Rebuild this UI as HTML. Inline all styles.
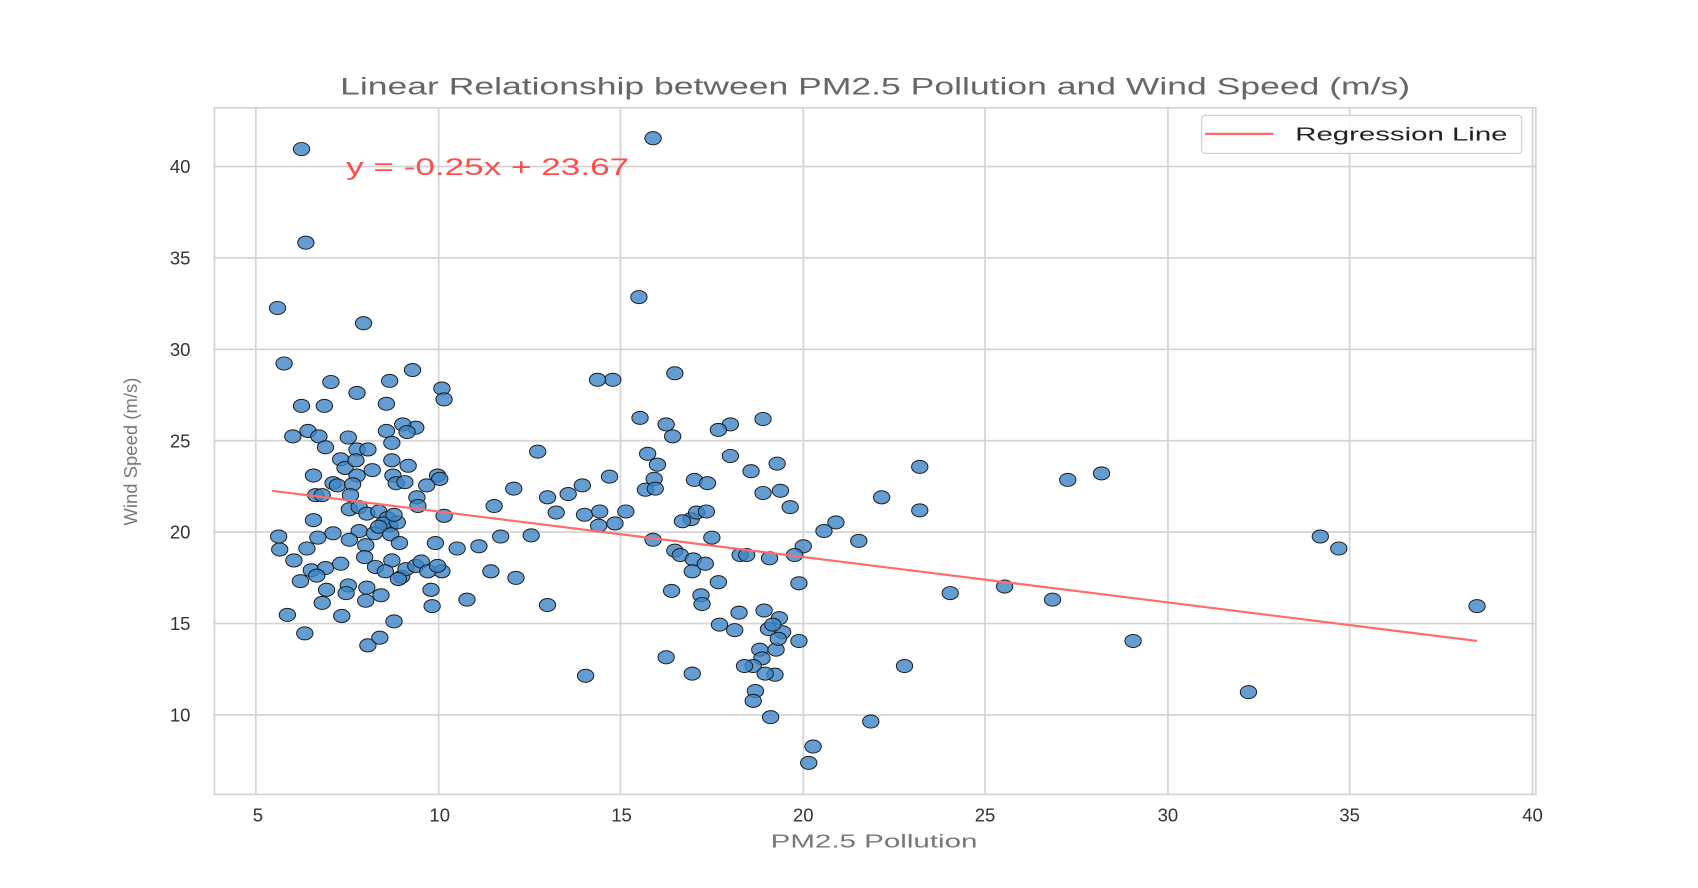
<!DOCTYPE html>
<html><head><meta charset="utf-8"><style>html,body{margin:0;padding:0;background:#fff}svg{display:block}</style></head><body>
<svg width="1698" height="888" viewBox="0 0 1560 816" preserveAspectRatio="none" xmlns="http://www.w3.org/2000/svg" font-family="Liberation Sans, sans-serif">
<rect width="1560" height="816" fill="#fff"/>
<g stroke="#d4d4d4" stroke-width="1.6" fill="none">
<line x1="235" y1="99" x2="235" y2="730"/><line x1="403" y1="99" x2="403" y2="730"/><line x1="570" y1="99" x2="570" y2="730"/><line x1="738" y1="99" x2="738" y2="730"/><line x1="905" y1="99" x2="905" y2="730"/><line x1="1073" y1="99" x2="1073" y2="730"/><line x1="1240" y1="99" x2="1240" y2="730"/><line x1="1408" y1="99" x2="1408" y2="730"/>
<line x1="197" y1="153" x2="1411" y2="153"/><line x1="197" y1="237" x2="1411" y2="237"/><line x1="197" y1="321" x2="1411" y2="321"/><line x1="197" y1="405" x2="1411" y2="405"/><line x1="197" y1="489" x2="1411" y2="489"/><line x1="197" y1="573" x2="1411" y2="573"/><line x1="197" y1="657" x2="1411" y2="657"/>
<rect x="197" y="99" width="1214" height="631"/>
</g>
<g fill="#3d85c6" fill-opacity="0.8" stroke="#1a1a1a" stroke-width="0.9">
<ellipse cx="277" cy="137" rx="7.5" ry="6"/><ellipse cx="600" cy="127" rx="7.5" ry="6"/><ellipse cx="281" cy="223" rx="7.5" ry="6"/><ellipse cx="587" cy="273" rx="7.5" ry="6"/><ellipse cx="255" cy="283" rx="7.5" ry="6"/><ellipse cx="334" cy="297" rx="7.5" ry="6"/><ellipse cx="261" cy="334" rx="7.5" ry="6"/><ellipse cx="379" cy="340" rx="7.5" ry="6"/><ellipse cx="358" cy="350" rx="7.5" ry="6"/><ellipse cx="304" cy="351" rx="7.5" ry="6"/><ellipse cx="328" cy="361" rx="7.5" ry="6"/><ellipse cx="406" cy="357" rx="7.5" ry="6"/><ellipse cx="408" cy="367" rx="7.5" ry="6"/><ellipse cx="563" cy="349" rx="7.5" ry="6"/><ellipse cx="549" cy="349" rx="7.5" ry="6"/><ellipse cx="620" cy="343" rx="7.5" ry="6"/><ellipse cx="277" cy="373" rx="7.5" ry="6"/><ellipse cx="298" cy="373" rx="7.5" ry="6"/><ellipse cx="355" cy="371" rx="7.5" ry="6"/><ellipse cx="588" cy="384" rx="7.5" ry="6"/><ellipse cx="612" cy="390" rx="7.5" ry="6"/><ellipse cx="283" cy="396" rx="7.5" ry="6"/><ellipse cx="293" cy="401" rx="7.5" ry="6"/><ellipse cx="269" cy="401" rx="7.5" ry="6"/><ellipse cx="320" cy="402" rx="7.5" ry="6"/><ellipse cx="355" cy="396" rx="7.5" ry="6"/><ellipse cx="360" cy="407" rx="7.5" ry="6"/><ellipse cx="382" cy="393" rx="7.5" ry="6"/><ellipse cx="370" cy="390" rx="7.5" ry="6"/><ellipse cx="374" cy="397" rx="7.5" ry="6"/><ellipse cx="618" cy="401" rx="7.5" ry="6"/><ellipse cx="701" cy="385" rx="7.5" ry="6"/><ellipse cx="671" cy="390" rx="7.5" ry="6"/><ellipse cx="660" cy="395" rx="7.5" ry="6"/><ellipse cx="299" cy="411" rx="7.5" ry="6"/><ellipse cx="328" cy="413" rx="7.5" ry="6"/><ellipse cx="338" cy="413" rx="7.5" ry="6"/><ellipse cx="313" cy="422" rx="7.5" ry="6"/><ellipse cx="317" cy="430" rx="7.5" ry="6"/><ellipse cx="327" cy="423" rx="7.5" ry="6"/><ellipse cx="360" cy="423" rx="7.5" ry="6"/><ellipse cx="375" cy="428" rx="7.5" ry="6"/><ellipse cx="494" cy="415" rx="7.5" ry="6"/><ellipse cx="595" cy="417" rx="7.5" ry="6"/><ellipse cx="604" cy="427" rx="7.5" ry="6"/><ellipse cx="671" cy="419" rx="7.5" ry="6"/><ellipse cx="714" cy="426" rx="7.5" ry="6"/><ellipse cx="845" cy="429" rx="7.5" ry="6"/><ellipse cx="981" cy="441" rx="7.5" ry="6"/><ellipse cx="1012" cy="435" rx="7.5" ry="6"/><ellipse cx="288" cy="437" rx="7.5" ry="6"/><ellipse cx="306" cy="444" rx="7.5" ry="6"/><ellipse cx="328" cy="437" rx="7.5" ry="6"/><ellipse cx="342" cy="432" rx="7.5" ry="6"/><ellipse cx="361" cy="437" rx="7.5" ry="6"/><ellipse cx="364" cy="444" rx="7.5" ry="6"/><ellipse cx="372" cy="443" rx="7.5" ry="6"/><ellipse cx="402" cy="437" rx="7.5" ry="6"/><ellipse cx="404" cy="440" rx="7.5" ry="6"/><ellipse cx="392" cy="446" rx="7.5" ry="6"/><ellipse cx="560" cy="438" rx="7.5" ry="6"/><ellipse cx="601" cy="440" rx="7.5" ry="6"/><ellipse cx="638" cy="441" rx="7.5" ry="6"/><ellipse cx="650" cy="444" rx="7.5" ry="6"/><ellipse cx="690" cy="433" rx="7.5" ry="6"/><ellipse cx="717" cy="451" rx="7.5" ry="6"/><ellipse cx="472" cy="449" rx="7.5" ry="6"/><ellipse cx="522" cy="454" rx="7.5" ry="6"/><ellipse cx="535" cy="446" rx="7.5" ry="6"/><ellipse cx="810" cy="457" rx="7.5" ry="6"/><ellipse cx="701" cy="453" rx="7.5" ry="6"/><ellipse cx="290" cy="455" rx="7.5" ry="6"/><ellipse cx="296" cy="455" rx="7.5" ry="6"/><ellipse cx="310" cy="446" rx="7.5" ry="6"/><ellipse cx="324" cy="445" rx="7.5" ry="6"/><ellipse cx="322" cy="455" rx="7.5" ry="6"/><ellipse cx="383" cy="457" rx="7.5" ry="6"/><ellipse cx="384" cy="465" rx="7.5" ry="6"/><ellipse cx="321" cy="468" rx="7.5" ry="6"/><ellipse cx="330" cy="466" rx="7.5" ry="6"/><ellipse cx="337" cy="472" rx="7.5" ry="6"/><ellipse cx="348" cy="470" rx="7.5" ry="6"/><ellipse cx="356" cy="476" rx="7.5" ry="6"/><ellipse cx="358" cy="483" rx="7.5" ry="6"/><ellipse cx="352" cy="481" rx="7.5" ry="6"/><ellipse cx="365" cy="480" rx="7.5" ry="6"/><ellipse cx="454" cy="465" rx="7.5" ry="6"/><ellipse cx="503" cy="457" rx="7.5" ry="6"/><ellipse cx="511" cy="471" rx="7.5" ry="6"/><ellipse cx="537" cy="473" rx="7.5" ry="6"/><ellipse cx="551" cy="470" rx="7.5" ry="6"/><ellipse cx="575" cy="470" rx="7.5" ry="6"/><ellipse cx="593" cy="450" rx="7.5" ry="6"/><ellipse cx="602" cy="449" rx="7.5" ry="6"/><ellipse cx="635" cy="477" rx="7.5" ry="6"/><ellipse cx="640" cy="471" rx="7.5" ry="6"/><ellipse cx="649" cy="470" rx="7.5" ry="6"/><ellipse cx="726" cy="466" rx="7.5" ry="6"/><ellipse cx="768" cy="480" rx="7.5" ry="6"/><ellipse cx="845" cy="469" rx="7.5" ry="6"/><ellipse cx="362" cy="473" rx="7.5" ry="6"/><ellipse cx="408" cy="474" rx="7.5" ry="6"/><ellipse cx="288" cy="478" rx="7.5" ry="6"/><ellipse cx="256" cy="493" rx="7.5" ry="6"/><ellipse cx="306" cy="490" rx="7.5" ry="6"/><ellipse cx="330" cy="488" rx="7.5" ry="6"/><ellipse cx="344" cy="490" rx="7.5" ry="6"/><ellipse cx="348" cy="484" rx="7.5" ry="6"/><ellipse cx="359" cy="491" rx="7.5" ry="6"/><ellipse cx="488" cy="492" rx="7.5" ry="6"/><ellipse cx="460" cy="493" rx="7.5" ry="6"/><ellipse cx="550" cy="483" rx="7.5" ry="6"/><ellipse cx="565" cy="481" rx="7.5" ry="6"/><ellipse cx="627" cy="479" rx="7.5" ry="6"/><ellipse cx="654" cy="494" rx="7.5" ry="6"/><ellipse cx="600" cy="496" rx="7.5" ry="6"/><ellipse cx="620" cy="506" rx="7.5" ry="6"/><ellipse cx="738" cy="502" rx="7.5" ry="6"/><ellipse cx="757" cy="488" rx="7.5" ry="6"/><ellipse cx="789" cy="497" rx="7.5" ry="6"/><ellipse cx="1213" cy="493" rx="7.5" ry="6"/><ellipse cx="1230" cy="504" rx="7.5" ry="6"/><ellipse cx="257" cy="505" rx="7.5" ry="6"/><ellipse cx="282" cy="504" rx="7.5" ry="6"/><ellipse cx="292" cy="494" rx="7.5" ry="6"/><ellipse cx="321" cy="496" rx="7.5" ry="6"/><ellipse cx="336" cy="501" rx="7.5" ry="6"/><ellipse cx="367" cy="499" rx="7.5" ry="6"/><ellipse cx="400" cy="499" rx="7.5" ry="6"/><ellipse cx="420" cy="504" rx="7.5" ry="6"/><ellipse cx="440" cy="502" rx="7.5" ry="6"/><ellipse cx="406" cy="525" rx="7.5" ry="6"/><ellipse cx="270" cy="515" rx="7.5" ry="6"/><ellipse cx="286" cy="524" rx="7.5" ry="6"/><ellipse cx="299" cy="522" rx="7.5" ry="6"/><ellipse cx="276" cy="534" rx="7.5" ry="6"/><ellipse cx="291" cy="529" rx="7.5" ry="6"/><ellipse cx="313" cy="518" rx="7.5" ry="6"/><ellipse cx="335" cy="512" rx="7.5" ry="6"/><ellipse cx="345" cy="521" rx="7.5" ry="6"/><ellipse cx="360" cy="515" rx="7.5" ry="6"/><ellipse cx="354" cy="525" rx="7.5" ry="6"/><ellipse cx="369" cy="530" rx="7.5" ry="6"/><ellipse cx="373" cy="523" rx="7.5" ry="6"/><ellipse cx="382" cy="520" rx="7.5" ry="6"/><ellipse cx="387" cy="516" rx="7.5" ry="6"/><ellipse cx="393" cy="525" rx="7.5" ry="6"/><ellipse cx="402" cy="520" rx="7.5" ry="6"/><ellipse cx="451" cy="525" rx="7.5" ry="6"/><ellipse cx="474" cy="531" rx="7.5" ry="6"/><ellipse cx="680" cy="510" rx="7.5" ry="6"/><ellipse cx="686" cy="510" rx="7.5" ry="6"/><ellipse cx="707" cy="513" rx="7.5" ry="6"/><ellipse cx="625" cy="510" rx="7.5" ry="6"/><ellipse cx="637" cy="514" rx="7.5" ry="6"/><ellipse cx="636" cy="525" rx="7.5" ry="6"/><ellipse cx="648" cy="518" rx="7.5" ry="6"/><ellipse cx="730" cy="510" rx="7.5" ry="6"/><ellipse cx="660" cy="535" rx="7.5" ry="6"/><ellipse cx="734" cy="536" rx="7.5" ry="6"/><ellipse cx="923" cy="539" rx="7.5" ry="6"/><ellipse cx="396" cy="542" rx="7.5" ry="6"/><ellipse cx="366" cy="532" rx="7.5" ry="6"/><ellipse cx="337" cy="540" rx="7.5" ry="6"/><ellipse cx="320" cy="538" rx="7.5" ry="6"/><ellipse cx="300" cy="542" rx="7.5" ry="6"/><ellipse cx="318" cy="545" rx="7.5" ry="6"/><ellipse cx="350" cy="547" rx="7.5" ry="6"/><ellipse cx="617" cy="543" rx="7.5" ry="6"/><ellipse cx="644" cy="547" rx="7.5" ry="6"/><ellipse cx="645" cy="555" rx="7.5" ry="6"/><ellipse cx="429" cy="551" rx="7.5" ry="6"/><ellipse cx="503" cy="556" rx="7.5" ry="6"/><ellipse cx="397" cy="557" rx="7.5" ry="6"/><ellipse cx="873" cy="545" rx="7.5" ry="6"/><ellipse cx="967" cy="551" rx="7.5" ry="6"/><ellipse cx="264" cy="565" rx="7.5" ry="6"/><ellipse cx="296" cy="554" rx="7.5" ry="6"/><ellipse cx="314" cy="566" rx="7.5" ry="6"/><ellipse cx="336" cy="552" rx="7.5" ry="6"/><ellipse cx="362" cy="571" rx="7.5" ry="6"/><ellipse cx="679" cy="563" rx="7.5" ry="6"/><ellipse cx="702" cy="561" rx="7.5" ry="6"/><ellipse cx="716" cy="568" rx="7.5" ry="6"/><ellipse cx="706" cy="578" rx="7.5" ry="6"/><ellipse cx="719" cy="581" rx="7.5" ry="6"/><ellipse cx="734" cy="589" rx="7.5" ry="6"/><ellipse cx="661" cy="574" rx="7.5" ry="6"/><ellipse cx="675" cy="579" rx="7.5" ry="6"/><ellipse cx="710" cy="574" rx="7.5" ry="6"/><ellipse cx="1357" cy="557" rx="7.5" ry="6"/><ellipse cx="1041" cy="589" rx="7.5" ry="6"/><ellipse cx="280" cy="582" rx="7.5" ry="6"/><ellipse cx="338" cy="593" rx="7.5" ry="6"/><ellipse cx="349" cy="586" rx="7.5" ry="6"/><ellipse cx="698" cy="597" rx="7.5" ry="6"/><ellipse cx="713" cy="597" rx="7.5" ry="6"/><ellipse cx="715" cy="587" rx="7.5" ry="6"/><ellipse cx="700" cy="605" rx="7.5" ry="6"/><ellipse cx="692" cy="612" rx="7.5" ry="6"/><ellipse cx="684" cy="612" rx="7.5" ry="6"/><ellipse cx="612" cy="604" rx="7.5" ry="6"/><ellipse cx="636" cy="619" rx="7.5" ry="6"/><ellipse cx="538" cy="621" rx="7.5" ry="6"/><ellipse cx="712" cy="620" rx="7.5" ry="6"/><ellipse cx="703" cy="619" rx="7.5" ry="6"/><ellipse cx="831" cy="612" rx="7.5" ry="6"/><ellipse cx="694" cy="635" rx="7.5" ry="6"/><ellipse cx="692" cy="644" rx="7.5" ry="6"/><ellipse cx="1147" cy="636" rx="7.5" ry="6"/><ellipse cx="708" cy="659" rx="7.5" ry="6"/><ellipse cx="800" cy="663" rx="7.5" ry="6"/><ellipse cx="747" cy="686" rx="7.5" ry="6"/><ellipse cx="743" cy="701" rx="7.5" ry="6"/>
</g>
<line x1="250" y1="451" x2="1357" y2="589" stroke="#ff6b6b" stroke-width="2"/>
<g font-size="17" fill="#333" text-anchor="middle">
<text x="237" y="755">5</text><text x="404" y="755">10</text><text x="571" y="755">15</text><text x="738" y="755">20</text><text x="905" y="755">25</text><text x="1073" y="755">30</text><text x="1240" y="755">35</text><text x="1408" y="755">40</text>
</g>
<g font-size="17" fill="#333" text-anchor="end">
<text x="175" y="159">40</text><text x="175" y="243">35</text><text x="175" y="327">30</text><text x="175" y="411">25</text><text x="175" y="495">20</text><text x="175" y="579">15</text><text x="175" y="663">10</text>
</g>
<text x="804" y="87" font-size="22" fill="#666" text-anchor="middle" textLength="983" lengthAdjust="spacingAndGlyphs">Linear Relationship between PM2.5 Pollution and Wind Speed (m/s)</text>
<text x="803" y="779" font-size="17" fill="#777" text-anchor="middle" textLength="190" lengthAdjust="spacingAndGlyphs">PM2.5 Pollution</text>
<text transform="translate(126,415) rotate(-90)" font-size="17" fill="#777" text-anchor="middle">Wind Speed (m/s)</text>
<text x="318" y="161" font-size="22" fill="#ff4d4d" textLength="260" lengthAdjust="spacingAndGlyphs">y = -0.25x + 23.67</text>
<rect x="1104" y="106" width="294" height="35" rx="3" fill="#fff" fill-opacity="0.85" stroke="#ccc"/>
<line x1="1107" y1="123" x2="1170" y2="123" stroke="#ff6b6b" stroke-width="2"/>
<text x="1190" y="129" font-size="17" fill="#222" textLength="195" lengthAdjust="spacingAndGlyphs">Regression Line</text>
</svg>
</body></html>
